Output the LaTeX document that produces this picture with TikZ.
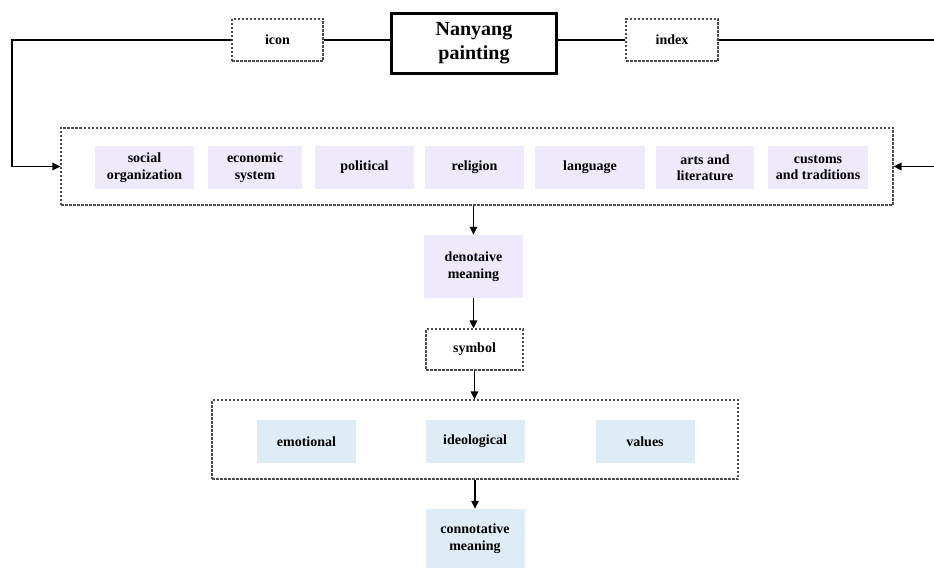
\documentclass[tikz,border=0pt]{standalone}
\usepackage{fontspec}
\setmainfont{Liberation Serif}
\usetikzlibrary{arrows.meta}
\definecolor{lilac}{HTML}{EEEAFB}
\definecolor{paleblue}{HTML}{DEECF5}
\begin{document}
\begin{tikzpicture}[x=1pt,y=-1pt,
  font=\fontsize{14}{16.5}\selectfont\bfseries,
  dashbox/.style={draw=black!70,dash pattern=on 2.5pt off 1.5pt,line width=1.3pt,inner sep=0pt},
  aspect/.style={fill=lilac,minimum height=43pt,inner sep=0pt,align=center},
  valuebox/.style={fill=paleblue,minimum width=99pt,inner sep=0pt,align=center},
  arr/.style={-{Triangle[length=8pt,width=7.5pt]},line width=1.5pt}]
  \useasboundingbox (0,0) rectangle (934,569);
  \node[draw,line width=3pt,minimum width=165pt,minimum height=60pt,align=center,
        font=\fontsize{20}{24}\selectfont\bfseries] (title) at (474,43.5) {Nanyang\\painting};
  \node[dashbox,minimum width=91pt,minimum height=42pt] (icon) at (277.5,40) {icon};
  \node[dashbox,minimum width=92pt,minimum height=42pt] (index) at (672,40) {index};
  \draw[line width=1.5pt] (icon.east) -- (icon.east -| title.west);
  \draw[line width=1.5pt] (index.west) -- (index.west -| title.east);
  % culture aspects
  \node[dashbox,minimum width=832pt,minimum height=77pt] (culture) at (477,166.5) {};
  \node[aspect,minimum width=99pt] (social) at (144.5,167.5) {social\\organization};
  \node[aspect,minimum width=94pt] (economy) at (255,167.5) {economic\\system};
  \node[aspect,minimum width=99pt] (politics) at (364.5,167.5) {political};
  \node[aspect,minimum width=99pt] (religion) at (474.5,167.5) {religion};
  \node[aspect,minimum width=110pt] (language) at (590,167.5) {language};
  \node[aspect,minimum width=98pt] (arts) at (705,167.5) {arts and\\literature};
  \node[aspect,minimum width=100pt] (customs) at (818,167.5) {customs\\and traditions};
  \coordinate (lcorner) at (12,40);
  \coordinate (rcorner) at (940,40);
  \draw[arr] (icon.west) -- (lcorner) |- (culture.west);
  \draw[arr] (index.east) -- (rcorner) |- (culture.east);
  % meanings
  \node[aspect,minimum width=99pt,minimum height=63pt] (denot) at (473.5,266.5) {denotaive\\meaning};
  \node[dashbox,minimum width=97pt,minimum height=41pt] (symbol) at (474.5,349.5) {symbol};
  \node[dashbox,minimum width=526pt,minimum height=79pt] (levels) at (475,439.5) {};
  \node[valuebox,minimum height=43pt] (emotion) at (306.5,441.5) {emotional};
  \node[valuebox,minimum height=43pt] (ideology) at (475,441.5) {ideological};
  \node[valuebox,minimum height=43pt] (values) at (645,441.5) {values};
  \node[valuebox,minimum height=59pt] (connot) at (475,538.5) {connotative\\meaning};
  \draw[arr] (denot.north |- culture.south) -- (denot.north);
  \draw[arr] (denot.south) -- (denot.south |- symbol.north);
  \draw[arr] (symbol.south) -- (symbol.south |- levels.north);
  \draw[arr] (connot.north |- levels.south) -- (connot.north);
\end{tikzpicture}
\end{document}
